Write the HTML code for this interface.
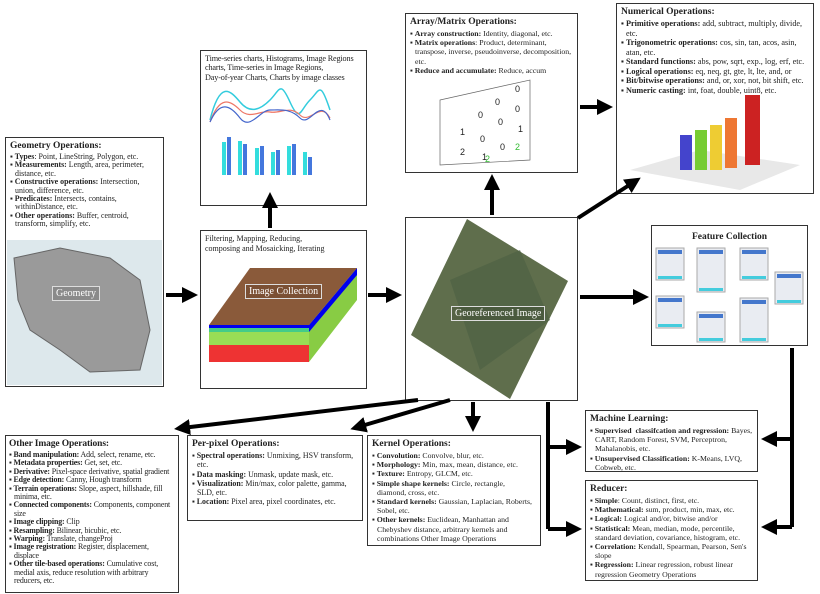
<!DOCTYPE html>
<html><head><meta charset="utf-8"><style>
*{margin:0;padding:0;box-sizing:border-box}
body{width:820px;height:594px;background:#fff;position:relative;overflow:hidden;font-family:"Liberation Serif",serif;color:#222}
.b{position:absolute;border:1.5px solid #333;background:#fff;font-size:7.8px;line-height:9.2px;padding:3px 4px}
.b h{display:block;font-weight:bold;font-size:9.5px;line-height:11px;margin-bottom:1px}
.b p{padding-left:5px;text-indent:-5px;margin:0}
.b p b{font-weight:bold}
svg{position:absolute;left:0;top:0}
.lbl{position:absolute;color:#fff;font-size:10px;border:1px solid #ddd;padding:1px 3px;background:rgba(0,0,0,0.1)}
</style></head><body>
<svg width="820" height="594">
<defs><marker id="a" markerWidth="4" markerHeight="4" refX="2" refY="2" orient="auto"><path d="M0,0L4,2L0,4z" fill="#000"/></marker></defs>
</svg>

<div class="b" style="left:5px;top:137px;width:159px;height:250px;line-height:8.4px;font-size:7.9px">
<h>Geometry Operations:</h>
<p>▪ <b>Types</b>: Point, LineString, Polygon, etc.</p>
<p>▪ <b>Measurements:</b> Length, area, perimeter, distance, etc.</p>
<p>▪ <b>Constructive operations:</b> Intersection, union, difference, etc.</p>
<p>▪ <b>Predicates:</b> Intersects, contains, withinDistance, etc.</p>
<p>▪ <b>Other operations:</b> Buffer, centroid, transform, simplify, etc.</p>
</div>
<div style="position:absolute;left:7px;top:240px;width:155px;height:145px;background:#dde8ec"></div>
<svg width="820" height="594"><path d="M14,258 L60,248 L110,258 L140,280 L150,330 L140,370 L90,372 L60,350 L30,330 L18,300z" fill="#9a9a9a" stroke="#666"/></svg>
<div class="lbl" style="left:52px;top:286px">Geometry</div>

<div class="b" style="left:200px;top:50px;width:167px;height:156px;font-size:8.2px;letter-spacing:-0.15px;line-height:9.3px;white-space:nowrap">
Time-series charts, Histograms, Image Regions<br>charts, Time-series in Image Regions,<br>Day-of-year Charts, Charts by image classes</div>
<svg width="820" height="594">
<path d="M210,120 C220,80 230,90 240,102 S260,110 270,100 S280,80 290,102 S300,110 310,100 S320,80 330,110" stroke="#3cd" fill="none" stroke-width="1.5"/>
<path d="M210,122 C220,95 230,100 240,110 S260,110 270,112 S290,105 300,115 S320,100 330,118" stroke="#e76" fill="none" stroke-width="1.2"/>
<path d="M210,122 C220,100 230,105 240,118 S260,110 270,110 S290,108 300,118 S320,95 330,120" stroke="#46c" fill="none" stroke-width="1.2"/>
<g fill="#3dd"><rect x="222" y="142" width="4" height="33"/><rect x="238" y="141" width="4" height="34"/><rect x="255" y="148" width="4" height="27"/><rect x="271" y="152" width="4" height="23"/><rect x="287" y="146" width="4" height="29"/><rect x="303" y="152" width="4" height="23"/></g>
<g fill="#47d"><rect x="227" y="137" width="4" height="38"/><rect x="243" y="144" width="4" height="31"/><rect x="260" y="146" width="4" height="29"/><rect x="276" y="150" width="4" height="25"/><rect x="292" y="144" width="4" height="31"/><rect x="308" y="157" width="4" height="18"/></g>
</svg>

<div class="b" style="left:200px;top:230px;width:167px;height:159px;font-size:8px;line-height:9.5px">Filtering, Mapping, Reducing,<br>composing and Mosaicking, Iterating</div>
<svg width="820" height="594">
<polygon points="209,328 309,328 309,362 209,362" fill="#e33"/>
<polygon points="209,328 209,345 309,345 309,328" fill="#9d5"/>
<polygon points="209,325 309,325 309,332 209,332" fill="#4c8"/>
<polygon points="209,325 309,325 309,328 209,328" fill="#00e"/>
<polygon points="309,325 357,268 357,300 309,362" fill="#8c4"/>
<polygon points="309,325 357,268 357,275 309,332" fill="#00e"/>
<polygon points="209,325 250,268 357,268 309,325" fill="#8a5a3a"/>
</svg>
<div class="lbl" style="left:245px;top:284px">Image Collection</div>

<div style="position:absolute;left:405px;top:217px;width:173px;height:184px;border:1.5px solid #333;background:#fff"></div>
<svg width="820" height="594"><polygon points="467,219 568,281 510,399 411,335" fill="#5f6e4c"/><polygon points="450,280 520,250 550,320 480,370" fill="#4f6145" opacity=".7"/></svg>
<div class="lbl" style="left:451px;top:306px">Georeferenced Image</div>

<div class="b" style="left:405px;top:13px;width:173px;height:160px">
<h>Array/Matrix Operations:</h>
<p>▪ <b>Array construction:</b> Identity, diagonal, etc.</p>
<p>▪ <b>Matrix operations</b>: Product, determinant, transpose, inverse, pseudoinverse, decomposition, etc.</p>
<p>▪ <b>Reduce and accumulate:</b> Reduce, accum</p>
</div>
<svg width="820" height="594" font-family="Liberation Sans" font-size="9">
<polygon points="440,100 530,80 530,160 440,165" fill="#fff" stroke="#666" stroke-width=".7"/>
<g fill="#222"><text x="515" y="92">0</text><text x="495" y="105">0</text><text x="515" y="112">0</text><text x="478" y="118">0</text><text x="498" y="125">0</text><text x="518" y="132">1</text><text x="460" y="135">1</text><text x="480" y="142">0</text><text x="500" y="150">0</text><text x="460" y="155">2</text><text x="482" y="160">1</text></g>
<text x="515" y="150" fill="#3b3">2</text><text x="485" y="162" fill="#3b3">2</text>
</svg>

<div class="b" style="left:616px;top:3px;width:198px;height:191px;font-size:8.2px;line-height:9.5px">
<h>Numerical Operations:</h>
<p>▪ <b>Primitive operations:</b> add, subtract, multiply, divide, etc.</p>
<p>▪ <b>Trigonometric operations:</b> cos, sin, tan, acos, asin, atan, etc.</p>
<p>▪ <b>Standard functions:</b> abs, pow, sqrt, exp., log, erf, etc.</p>
<p>▪ <b>Logical operations:</b> eq, neq, gt, gte, lt, lte, and, or</p>
<p>▪ <b>Bit/bitwise operations:</b> and, or, xor, not, bit shift, etc.</p>
<p>▪ <b>Numeric casting:</b> int, foat, double, uint8, etc.</p>
</div>
<svg width="820" height="594">
<polygon points="630,170 700,150 800,165 740,190" fill="#e8e8e8"/>
<rect x="680" y="135" width="12" height="35" fill="#44c"/>
<rect x="695" y="130" width="12" height="40" fill="#7c3"/>
<rect x="710" y="125" width="12" height="45" fill="#ec3"/>
<rect x="725" y="118" width="12" height="50" fill="#e73"/>
<rect x="745" y="95" width="15" height="70" fill="#c22"/>
</svg>

<div class="b" style="left:651px;top:225px;width:157px;height:121px;text-align:center"><h style="margin-top:3px">Feature Collection</h></div>
<svg width="820" height="594" stroke="#aaa" fill="#e9ecf2">
<rect x="656" y="248" width="28" height="32"/><rect x="697" y="248" width="28" height="44"/><rect x="740" y="248" width="28" height="32"/><rect x="775" y="272" width="28" height="32"/>
<rect x="656" y="296" width="28" height="32"/><rect x="697" y="312" width="28" height="30"/><rect x="740" y="298" width="28" height="44"/>
<g fill="#4cd" stroke="none"><rect x="658" y="276" width="24" height="3"/><rect x="699" y="288" width="24" height="3"/><rect x="742" y="276" width="24" height="3"/><rect x="777" y="300" width="24" height="3"/><rect x="658" y="324" width="24" height="3"/><rect x="699" y="338" width="24" height="3"/><rect x="742" y="338" width="24" height="3"/></g>
<g fill="#47c" stroke="none"><rect x="658" y="250" width="24" height="4"/><rect x="699" y="250" width="24" height="4"/><rect x="742" y="250" width="24" height="4"/><rect x="777" y="274" width="24" height="4"/><rect x="658" y="298" width="24" height="4"/><rect x="699" y="314" width="24" height="4"/><rect x="742" y="300" width="24" height="4"/></g>
</svg>

<div class="b" style="left:5px;top:435px;width:174px;height:158px;font-size:7.9px;line-height:8.4px;letter-spacing:-0.12px;padding:3px 3px">
<h>Other Image Operations:</h>
<p>▪ <b>Band manipulation:</b> Add, select, rename, etc.</p>
<p>▪ <b>Metadata properties:</b> Get, set, etc.</p>
<p>▪ <b>Derivative:</b> Pixel-space derivative, spatial gradient</p>
<p>▪ <b>Edge detection:</b> Canny, Hough transform</p>
<p>▪ <b>Terrain operations:</b> Slope, aspect, hillshade, fill minima, etc.</p>
<p>▪ <b>Connected components:</b> Components, component size</p>
<p>▪ <b>Image clipping:</b> Clip</p>
<p>▪ <b>Resampling:</b> Bilinear, bicubic, etc.</p>
<p>▪ <b>Warping:</b> Translate, changeProj</p>
<p>▪ <b>Image registration:</b> Register, displacement, displace</p>
<p>▪ <b>Other tile-based operations:</b> Cumulative cost,<br>medial axis, reduce resolution with arbitrary<br>reducers, etc.</p>
</div>
<div class="b" style="left:187px;top:435px;width:176px;height:86px;font-size:7.9px;line-height:9.3px">
<h>Per-pixel Operations:</h>
<p>▪ <b>Spectral operations:</b> Unmixing, HSV transform, etc.</p>
<p>▪ <b>Data masking:</b> Unmask, update mask, etc.</p>
<p>▪ <b>Visualization:</b> Min/max, color palette, gamma, SLD, etc.</p>
<p>▪ <b>Location:</b> Pixel area, pixel coordinates, etc.</p>
</div>
<div class="b" style="left:367px;top:435px;width:174px;height:111px">
<h>Kernel Operations:</h>
<p>▪ <b>Convolution:</b> Convolve, blur, etc.</p>
<p>▪ <b>Morphology:</b> Min, max, mean, distance, etc.</p>
<p>▪ <b>Texture:</b> Entropy, GLCM, etc.</p>
<p>▪ <b>Simple shape kernels:</b> Circle, rectangle, diamond, cross, etc.</p>
<p>▪ <b>Standard kernels:</b> Gaussian, Laplacian, Roberts, Sobel, etc.</p>
<p>▪ <b>Other kernels:</b> Euclidean, Manhattan and Chebyshev distance, arbitrary kernels and combinations Other Image Operations</p>
</div>
<div class="b" style="left:585px;top:410px;width:173px;height:62px">
<h>Machine Learning:</h>
<p>▪ <b>Supervised &nbsp;classifcation and regression:</b> Bayes, CART, Random Forest, SVM, Perceptron, Mahalanobis, etc.</p>
<p>▪ <b>Unsupervised Classification:</b> K-Means, LVQ, Cobweb, etc.</p>
</div>
<div class="b" style="left:585px;top:480px;width:173px;height:101px">
<h>Reducer:</h>
<p>▪ <b>Simple</b>: Count, distinct, first, etc.</p>
<p>▪ <b>Mathematical:</b> sum, product, min, max, etc.</p>
<p>▪ <b>Logical:</b> Logical and/or, bitwise and/or</p>
<p>▪ <b>Statistical:</b> Mean, median, mode, percentile, standard deviation, covariance, histogram, etc.</p>
<p>▪ <b>Correlation:</b> Kendall, Spearman, Pearson, Sen's slope</p>
<p>▪ <b>Regression:</b> Linear regression, robust linear regression Geometry Operations</p>
</div>

<svg width="820" height="594" stroke="#000" stroke-width="4" fill="none">
<g marker-end="url(#a)">
<line x1="166" y1="295" x2="190" y2="295"/>
<line x1="368" y1="295" x2="394" y2="295"/>
<line x1="270" y1="228" x2="270" y2="200"/>
<line x1="492" y1="215" x2="492" y2="182"/>
<line x1="580" y1="107" x2="605" y2="107"/>
<line x1="578" y1="218" x2="634" y2="182"/>
<line x1="580" y1="297" x2="641" y2="297"/>
<line x1="418" y1="400" x2="182" y2="428"/>
<line x1="450" y1="400" x2="358" y2="427"/>
<line x1="473" y1="402" x2="473" y2="424"/>
<line x1="548" y1="447" x2="574" y2="447"/>
<line x1="548" y1="529" x2="574" y2="529"/>
<line x1="792" y1="439" x2="769" y2="439"/>
<line x1="792" y1="527" x2="769" y2="527"/>
</g>
<polyline points="548,402 548,529"/>
<polyline points="792,348 792,527"/>
</svg>
</body></html>
